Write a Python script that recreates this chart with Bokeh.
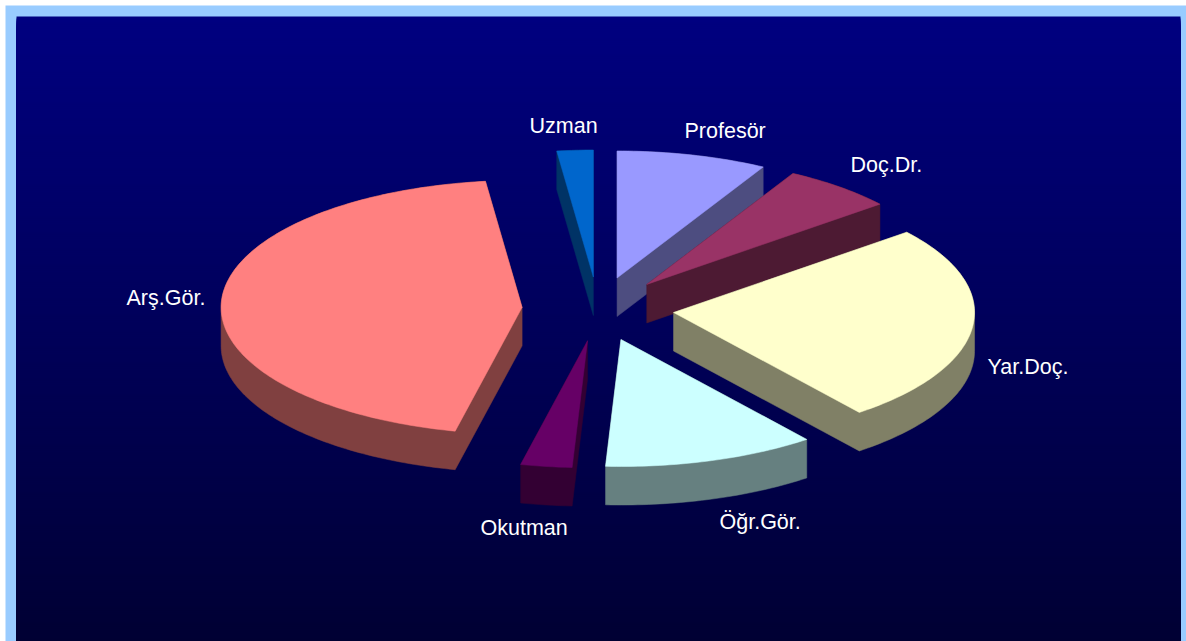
import numpy as np
from bokeh.embed import file_html
from bokeh.resources import INLINE
from bokeh.plotting import figure
from bokeh.models import Range1d
from bokeh.core.properties import value

# ---- data (share of staff, percent) ----
categories = ["Profesör", "Doç.Dr.", "Yar.Doç.", "Öğr.Gör.", "Okutman", "Arş.Gör.", "Uzman"]
shares = [8.06, 6.03, 25.28, 11.39, 2.75, 44.44, 1.94]

# ---- style ----
top_colors = ["#9999FF", "#993366", "#FFFFCC", "#CCFFFF", "#660066", "#FF8080", "#0066CC"]
side_colors = ["#4D4D80", "#4D1A33", "#808066", "#668080", "#330033", "#804040", "#003366"]
draw_order = ["Uzman", "Profesör", "Doç.Dr.", "Yar.Doç.", "Öğr.Gör.", "Okutman", "Arş.Gör."]
label_left = [684, 850, 987, 719, 480, 126, 529]
label_base = [130, 164, 366, 521, 527, 297, 125]

# ---- layout of the 3D pie, in page pixels ----
CX, CY = 597.5, 308.5
RX, RY = 301.0, 127.0
EX, EY = 76.0, 32.0
DEPTH = 38.5
LEFT, TOP, W, H = 5, 5, 1181, 636
INNER_L, INNER_R, INNER_T = 16, 1180, 16
BOTTOM = TOP + H
GRAD_TOP = np.array([0, 0, 128])
GRAD_BOTTOM = np.array([0, 0, 51])


def hull(pts):
    pts = sorted(set(pts))
    def half(seq):
        out = []
        for q in seq:
            while len(out) > 1 and (out[-1][0]-out[-2][0])*(q[1]-out[-2][1]) - (out[-1][1]-out[-2][1])*(q[0]-out[-2][0]) <= 0:
                out.pop()
            out.append(q)
        return out
    lo, up = half(pts), half(pts[::-1])
    return lo[:-1] + up[:-1]


p = figure(width=W, height=H, output_backend="svg", toolbar_location=None,
           x_range=Range1d(LEFT, LEFT + W), y_range=Range1d(BOTTOM, TOP),
           min_border=0, background_fill_color="#99CCFF", border_fill_color="#99CCFF",
           outline_line_color=None, margin=(5, 0, 0, 5))
p.axis.visible = False
p.grid.visible = False

# gradient background: overlapping bands, each reaching the bottom, so no seams
edges = np.arange(INNER_T, BOTTOM, 2)
fr = (edges - INNER_T) / (641 - INNER_T)
cols = ["#%02x%02x%02x" % tuple(int(round(c)) for c in GRAD_TOP + (GRAD_BOTTOM - GRAD_TOP) * f) for f in fr]
p.quad(left=INNER_L, right=INNER_R, top=edges, bottom=BOTTOM, fill_color=cols, line_color=None)

# slices
total = sum(shares)
angles = np.cumsum([0] + [s / total * 360 for s in shares])
for name in draw_order:
    i = categories.index(name)
    a0, a1 = np.radians(angles[i]), np.radians(angles[i + 1])
    mid = (a0 + a1) / 2
    ax = CX + EX * np.sin(mid)
    ay = CY - EY * np.cos(mid)
    t = np.linspace(a0, a1, max(3, int(np.degrees(a1 - a0))))
    xs = np.concatenate([[ax], ax + RX * np.sin(t)])
    ys = np.concatenate([[ay], ay - RY * np.cos(t)])
    pts = [(float(x), float(y)) for x, y in zip(xs, ys)]
    pts += [(x, y + DEPTH) for x, y in pts]
    h = hull(pts)
    p.patch([q[0] for q in h], [q[1] for q in h], fill_color=side_colors[i], line_color=side_colors[i], line_width=0.5)
    p.patch(xs, ys, fill_color=top_colors[i], line_color=top_colors[i], line_width=0.5)

p.text(x=label_left, y=label_base, text=categories, text_color="white",
       text_font=value("Liberation Sans"), text_font_size="21.5px",
       text_align="left", text_baseline="alphabetic")

open("out.html", "w").write(file_html(p, INLINE))
